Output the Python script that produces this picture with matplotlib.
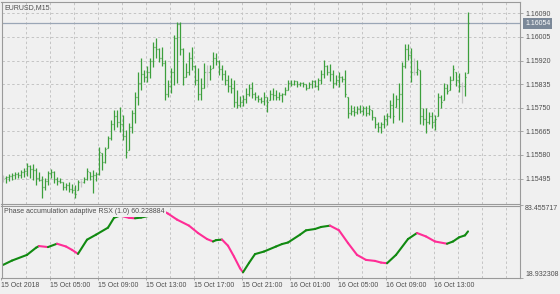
import numpy as np
import matplotlib
matplotlib.use("Agg")
import matplotlib.pyplot as plt
from matplotlib.collections import LineCollection

plt.rcParams['font.family'] = ['Liberation Sans', 'DejaVu Sans']

SYMBOL = "EURUSD,M15"
INDICATOR = "Phase accumulation adaptive RSX (1.0) 60.228884"
BID = 1.16054

# EURUSD M15 bars, prices in points above 1.15000
high_pts = [508, 504, 512, 515, 519, 519, 526, 533, 551, 544,
            548, 533, 519, 504, 497, 522, 530, 522, 501, 497,
            483, 479, 483, 476, 472, 490, 490, 501, 533, 519,
            526, 519, 609, 587, 609, 648, 706, 742, 742, 753,
            724, 670, 695, 742, 807, 879, 929, 886, 900, 929,
            987, 1001, 965, 969, 922, 850, 893, 1012, 1059, 1059,
            965, 911, 951, 969, 904, 893, 857, 911, 904, 904,
            951, 947, 922, 904, 886, 868, 857, 850, 814, 792,
            796, 821, 836, 843, 807, 796, 789, 807, 789, 814,
            821, 814, 807, 803, 825, 850, 850, 850, 846, 843,
            843, 836, 843, 850, 850, 857, 886, 922, 904, 908,
            886, 868, 879, 864, 886, 789, 760, 756, 756, 760,
            756, 756, 760, 742, 717, 699, 699, 724, 731, 778,
            803, 796, 839, 915, 980, 980, 965, 929, 922, 886,
            749, 749, 735, 735, 724, 803, 796, 839, 836, 864,
            904, 879, 875, 843, 879, 1095]
low_pts = [483, 479, 486, 490, 494, 497, 497, 501, 504, 497,
           490, 472, 486, 425, 454, 472, 497, 479, 472, 479,
           454, 454, 447, 443, 425, 454, 465, 479, 490, 490,
           443, 486, 508, 526, 551, 605, 634, 670, 681, 663,
           634, 569, 598, 659, 695, 760, 814, 843, 843, 857,
           897, 929, 915, 900, 778, 789, 803, 832, 839, 940,
           832, 861, 868, 886, 832, 778, 778, 821, 825, 850,
           893, 904, 868, 850, 832, 807, 803, 753, 749, 753,
           756, 767, 792, 785, 778, 771, 767, 760, 735, 778,
           778, 778, 778, 771, 796, 814, 828, 832, 825, 828,
           825, 814, 821, 821, 825, 814, 836, 857, 868, 846,
           821, 832, 825, 843, 789, 713, 724, 720, 728, 731,
           724, 720, 724, 706, 677, 663, 659, 677, 688, 713,
           695, 753, 706, 699, 893, 922, 843, 868, 868, 692,
           688, 659, 692, 677, 670, 720, 749, 778, 800, 814,
           850, 828, 807, 767, 792, 875]
close_pts = [497, 501, 504, 508, 512, 508, 519, 522, 540, 530,
             526, 497, 490, 465, 486, 515, 519, 494, 486, 483,
             465, 472, 458, 454, 440, 483, 483, 494, 522, 504,
             508, 512, 590, 555, 600, 640, 690, 720, 700, 690,
             650, 590, 680, 730, 790, 840, 870, 860, 880, 920,
             970, 960, 930, 910, 800, 830, 880, 1000, 1050, 960,
             860, 880, 930, 900, 850, 800, 820, 880, 880, 890,
             930, 920, 890, 870, 850, 830, 820, 770, 760, 770,
             780, 800, 820, 800, 790, 780, 775, 790, 770, 800,
             795, 790, 795, 800, 815, 840, 835, 845, 835, 840,
             835, 820, 835, 845, 830, 850, 870, 900, 880, 870,
             840, 850, 860, 855, 800, 730, 740, 735, 745, 740,
             750, 730, 745, 715, 690, 680, 690, 710, 720, 760,
             720, 780, 800, 900, 960, 940, 880, 880, 890, 720,
             710, 700, 720, 700, 710, 790, 770, 820, 810, 850,
             890, 850, 830, 830, 860, 1054]

price_ticks = [1.15495, 1.15580, 1.15665, 1.15750, 1.15835, 1.15920, 1.16005, 1.16090]
time_labels = ["15 Oct 2018", "15 Oct 05:00", "15 Oct 09:00", "15 Oct 13:00",
               "15 Oct 17:00", "15 Oct 21:00", "16 Oct 01:00", "16 Oct 05:00",
               "16 Oct 09:00", "16 Oct 13:00"]

# RSX indicator, read at these bar indices
rsx_idx = [0, 3, 8, 11, 12, 15, 18, 21, 23, 25, 28, 31, 35, 37, 39, 42, 44, 46, 49, 51,
           53, 55, 58, 62, 65, 68, 70, 71, 73, 75, 77, 79, 80, 82, 84, 87, 91, 93, 95, 99,
           101, 104, 106, 109, 112, 115, 118, 121, 124, 126, 128, 131, 135, 138, 141, 144,
           148, 150, 152, 154, 155]
rsx_val = [30.2, 34.1, 39.2, 45.6, 47.1, 46.2, 49.2, 46.7, 43.7, 40.1, 52.8, 57.3, 63.6,
           72.4, 74.4, 72.4, 72.0, 72.6, 74.4, 77.1, 79.2, 76.2, 70.8, 65.4, 58.8, 53.4,
           51.2, 52.4, 52.9, 47.4, 37.7, 27.2, 23.6, 32.0, 39.9, 42.2, 46.7, 48.9, 50.3,
           57.3, 61.2, 62.4, 64.2, 65.4, 61.2, 49.8, 39.2, 34.7, 33.8, 32.3, 31.7, 39.2,
           53.4, 58.8, 55.7, 51.2, 49.2, 51.2, 54.9, 56.7, 60.228884]
rsx_min, rsx_max = 18.932308, 83.455717

BG = '#f0f0f0'
TXT = '#4d4d4d'
GRID = '#c4c4c4'
FRAME = '#9a9a9a'
BAR_GREEN = '#3c9f3c'
BAR_GRAY = '#c6c6c6'

W, H = 560, 294
fig = plt.figure(figsize=(W / 100, H / 100), dpi=100)
fig.patch.set_facecolor(BG)


def px_axes(l, t, r, b):
    return fig.add_axes([l / W, 1 - b / H, (r - l) / W, (b - t) / H])


ax = px_axes(1.5, 2, 520, 203.5)
ax2 = px_axes(1.5, 205.5, 520, 277.5)

highs = 1.15 + np.array(high_pts) / 1e5
lows = 1.15 + np.array(low_pts) / 1e5
closes = 1.15 + np.array(close_pts) / 1e5
opens = np.clip(np.r_[closes[0], closes[:-1]], lows, highs)
x = np.arange(len(closes))

xmin, xmax = -0.5, 172.33
for a in (ax, ax2):
    a.set_facecolor(BG)
    a.set_xlim(xmin, xmax)
    for s in a.spines.values():
        s.set_color(FRAME)
        s.set_linewidth(0.8)
    for k in range(1, 22):
        a.axvline(8 * k - 0.5, color=GRID, lw=0.7, ls=(0, (2.5, 2.5)), zorder=0)

# price panel
for p in price_ticks:
    ax.axhline(p, color=GRID, lw=0.7, ls=(0, (2.5, 2.5)), zorder=0)
ax.axhline(BID, color='#9aa6b6', lw=0.9, zorder=1)

segs, cols = [], []
for i in x:
    c = BAR_GRAY if abs(opens[i] - closes[i]) < 1e-9 else BAR_GREEN
    segs += [[(i, lows[i]), (i, highs[i])],
             [(i - 0.45, opens[i]), (i, opens[i])],
             [(i, closes[i]), (i + 0.45, closes[i])]]
    cols += [c, c, c]
ax.add_collection(LineCollection(segs, colors=cols, linewidths=0.9, zorder=2))

ax.set_ylim(1.154053, 1.161307)
ax.yaxis.tick_right()
ax.set_yticks(price_ticks)
ax.set_yticklabels([f"{p:.5f}" for p in price_ticks])
ax.tick_params(axis='y', labelsize=5, colors=FRAME, labelcolor=TXT, length=2.2, width=0.6, pad=1.5)
ax.set_xticks([])
ax.annotate(SYMBOL, xy=(0, 1), xycoords='axes fraction', xytext=(2.2, -1.6),
            textcoords='offset points', ha='left', va='top', fontsize=5, color=TXT)
ax.annotate(f"{BID:.5f}", xy=(1, BID), xycoords=('axes fraction', 'data'),
            xytext=(3.6, 0), textcoords='offset points', ha='left', va='center',
            fontsize=5, color='white',
            bbox=dict(boxstyle='square,pad=0.25', fc='#7b8898', ec='none'))

# indicator panel
pts = np.column_stack([rsx_idx, rsx_val])
rsx_segs = np.stack([pts[:-1], pts[1:]], axis=1)
rsx_cols = np.where(np.diff(rsx_val) >= 0, '#118a11', '#ff2d96')
ax2.add_collection(LineCollection(rsx_segs, colors=rsx_cols, linewidths=1.5,
                                  capstyle='round', zorder=2))
ax2.set_ylim(rsx_min, rsx_max)
ax2.yaxis.tick_right()
ax2.set_yticks([rsx_min, rsx_max])
ax2.set_yticklabels([f"{rsx_min:.6f}", f"{rsx_max:.6f}"])
ax2.tick_params(axis='y', labelsize=5, colors=FRAME, labelcolor=TXT, length=2.2, width=0.6, pad=1.5)
ylbl = ax2.get_yticklabels()
ylbl[0].set_va('bottom')
ylbl[1].set_va('top')

ax2.set_xticks([16 * k - 0.5 for k in range(len(time_labels))])
ax2.set_xticklabels(time_labels)
ax2.tick_params(axis='x', labelsize=5, colors=FRAME, labelcolor=TXT, length=1.5, width=0.6, pad=2)
for lbl in ax2.get_xticklabels():
    lbl.set_ha('left')

ax2.annotate(INDICATOR, xy=(0, 1), xycoords='axes fraction', xytext=(1.8, -2.0),
             textcoords='offset points', ha='left', va='top', fontsize=5, color=TXT,
             zorder=5, bbox=dict(boxstyle='square,pad=0.2', fc=BG, ec='none'))

fig.savefig('out.png', dpi=100, facecolor=fig.get_facecolor())
